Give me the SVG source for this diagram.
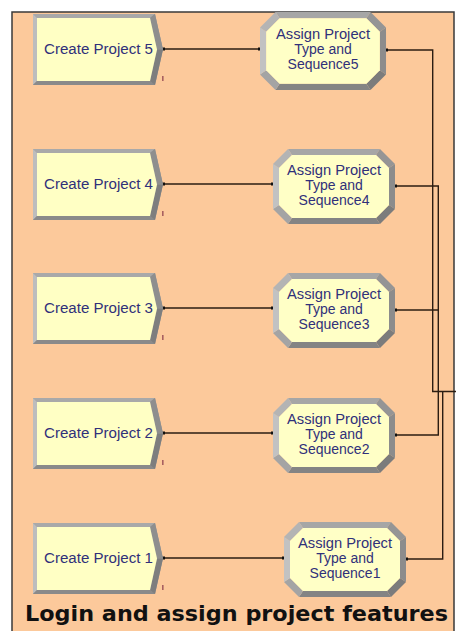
<svg xmlns="http://www.w3.org/2000/svg" width="456" height="631" viewBox="0 0 456 631">
<style>
.lbl{font-family:"Liberation Sans",Arial,sans-serif;font-size:14px;fill:#30307a;}
.albl{font-family:"Liberation Sans",Arial,sans-serif;font-size:14px;fill:#30307a;text-anchor:middle;}
.title{font-family:"DejaVu Sans",Verdana,sans-serif;font-weight:bold;font-size:22px;fill:#111;}
.con{fill:none;stroke:#2b1d12;stroke-width:1.4;}
.dot{fill:#111;}
.mark{fill:#a86060;}
</style>
<defs>
<g id="createShape">
<polygon points="0,0 122,0 130,35.5 122,71 0,71" fill="#9a9a9a"/>
<polygon points="0,0 122,0 117,4 4,4" fill="#a9a9a9"/>
<polygon points="0,0 4,4 4,67 0,71" fill="#bdbdbd"/>
<polygon points="0,71 4,67 117,67 122,71" fill="#8a8a8a"/>
<polygon points="122,0 130,35.5 124,35.5 117,4" fill="#8e8e8e"/>
<polygon points="130,35.5 122,71 117,67 124,35.5" fill="#7e7e7e"/>
<polygon points="4,4 117,4 124,35.5 117,67 4,67" fill="#ffffc4"/>
<rect x="129" y="62" width="1.6" height="5" class="mark"/>
</g>
<g id="assignShape">
<polygon points="15,0 107,0 103,6 19,6" fill="#a6a6a6"/>
<polygon points="107,0 122,15 116,19 103,6" fill="#959595"/>
<polygon points="122,15 122,60 116,56 116,19" fill="#8c8c8c"/>
<polygon points="122,60 107,75 103,69 116,56" fill="#7c7c7c"/>
<polygon points="107,75 15,75 19,69 103,69" fill="#848484"/>
<polygon points="15,75 0,60 6,56 19,69" fill="#a4a4a4"/>
<polygon points="0,60 0,15 6,19 6,56" fill="#c2c2c2"/>
<polygon points="0,15 15,0 19,6 6,19" fill="#b4b4b4"/>
<polygon points="19,6 103,6 116,19 116,56 103,69 19,69 6,56 6,19" fill="#ffffc6"/>
</g>
</defs>
<rect x="0" y="0" width="456" height="631" fill="#ffffff"/>
<rect x="12" y="12" width="442" height="625" fill="#fcc99b"/>
<path d="M12,631 V12 H454 V631" fill="none" stroke="#3a3a3a" stroke-width="1.5"/>

<g id="connectors">
<path class="con" d="M163,49 H260"/>
<path class="con" d="M163,184 H273"/>
<path class="con" d="M163,308 H273"/>
<path class="con" d="M163,433 H273"/>
<path class="con" d="M163,558 H284"/>
<path class="con" d="M386,50 H432.7 V391.5 H456"/>
<path class="con" d="M395,186 H438.3 V435 H395"/>
<path class="con" d="M395,310 H438.3"/>
<path class="con" d="M406,559 H442.7 V391.5"/>
<rect class="dot" x="162" y="47.5" width="3" height="3"/>
<rect class="dot" x="162" y="182.5" width="3" height="3"/>
<rect class="dot" x="162" y="306.5" width="3" height="3"/>
<rect class="dot" x="162" y="431.5" width="3" height="3"/>
<rect class="dot" x="162" y="556.5" width="3" height="3"/>
<rect class="dot" x="258" y="47.5" width="3" height="3"/>
<rect class="dot" x="271" y="182.5" width="3" height="3"/>
<rect class="dot" x="271" y="306.5" width="3" height="3"/>
<rect class="dot" x="271" y="431.5" width="3" height="3"/>
<rect class="dot" x="282" y="556.5" width="3" height="3"/>
<rect class="dot" x="385" y="48.5" width="3" height="3"/>
<rect class="dot" x="394" y="184.5" width="3" height="3"/>
<rect class="dot" x="394" y="308.5" width="3" height="3"/>
<rect class="dot" x="394" y="433.5" width="3" height="3"/>
<rect class="dot" x="405" y="557.5" width="3" height="3"/>
</g>

<g id="create5"><use href="#createShape" transform="translate(33,14)"/><text class="lbl" x="44" y="54" textLength="109" lengthAdjust="spacingAndGlyphs">Create Project 5</text></g>
<g id="create4"><use href="#createShape" transform="translate(33,149)"/><text class="lbl" x="44" y="189" textLength="109" lengthAdjust="spacingAndGlyphs">Create Project 4</text></g>
<g id="create3"><use href="#createShape" transform="translate(33,273)"/><text class="lbl" x="44" y="313" textLength="109" lengthAdjust="spacingAndGlyphs">Create Project 3</text></g>
<g id="create2"><use href="#createShape" transform="translate(33,398)"/><text class="lbl" x="44" y="438" textLength="109" lengthAdjust="spacingAndGlyphs">Create Project 2</text></g>
<g id="create1"><use href="#createShape" transform="translate(33,523)"/><text class="lbl" x="44" y="563" textLength="109" lengthAdjust="spacingAndGlyphs">Create Project 1</text></g>

<g id="assign5"><use href="#assignShape" transform="translate(260,12) scale(1.033,1.04)"/>
<text class="albl" x="323" y="39" textLength="94" lengthAdjust="spacingAndGlyphs">Assign Project</text><text class="albl" x="323" y="54">Type and</text><text class="albl" x="323" y="69">Sequence5</text></g>
<g id="assign4"><use href="#assignShape" transform="translate(273,149)"/>
<text class="albl" x="334" y="175" textLength="94" lengthAdjust="spacingAndGlyphs">Assign Project</text><text class="albl" x="334" y="190">Type and</text><text class="albl" x="334" y="205">Sequence4</text></g>
<g id="assign3"><use href="#assignShape" transform="translate(273,273)"/>
<text class="albl" x="334" y="299" textLength="94" lengthAdjust="spacingAndGlyphs">Assign Project</text><text class="albl" x="334" y="314">Type and</text><text class="albl" x="334" y="329">Sequence3</text></g>
<g id="assign2"><use href="#assignShape" transform="translate(273,398)"/>
<text class="albl" x="334" y="424" textLength="94" lengthAdjust="spacingAndGlyphs">Assign Project</text><text class="albl" x="334" y="439">Type and</text><text class="albl" x="334" y="454">Sequence2</text></g>
<g id="assign1"><use href="#assignShape" transform="translate(284,522)"/>
<text class="albl" x="345" y="548" textLength="94" lengthAdjust="spacingAndGlyphs">Assign Project</text><text class="albl" x="345" y="563">Type and</text><text class="albl" x="345" y="578">Sequence1</text></g>

<text class="title" x="25" y="621" textLength="423" lengthAdjust="spacingAndGlyphs">Login and assign project features</text>
</svg>
